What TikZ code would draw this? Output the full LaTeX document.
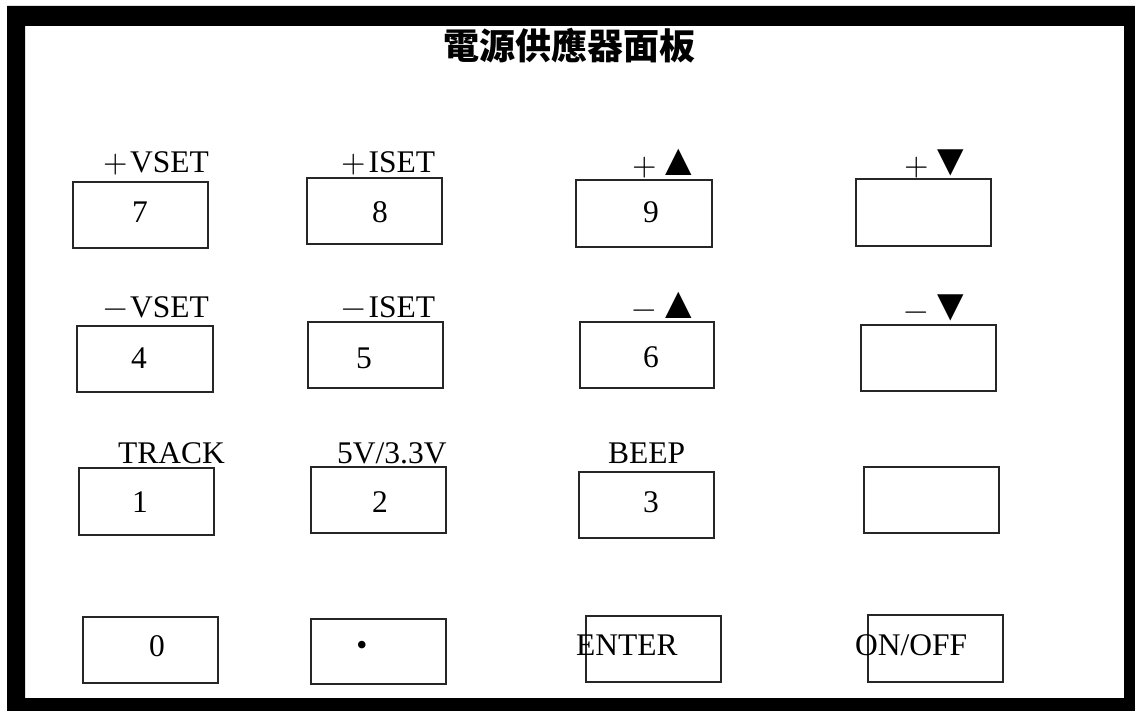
\documentclass[tikz,border=0pt]{standalone}
\usepackage{fontspec}
\setmainfont{Liberation Serif}
\newfontfamily\cjkfont{Noto Sans CJK TC}
\newfontfamily\lmr{lmroman10-regular}[Extension=.otf]
\newcommand\pls{{\lmr +}}
\newcommand\mns{{\lmr −}}
\newcommand\tri[1]{{\fontsize{45}{48}\selectfont #1}}
\tikzset{
  keyframe/.style={draw=black!85, line width=1.6pt, rectangle, inner sep=0pt},
  lbl/.style={anchor=base west, inner sep=0pt, font=\fontsize{31.5}{36}\selectfont},
  dig/.style={anchor=base, inner sep=0pt, font=\fontsize{31.5}{36}\selectfont},
  ttl/.style={anchor=base, inner sep=0pt, font=\cjkfont\bfseries\fontsize{36}{40}\selectfont}
}
\newcommand\keybox[5]{\node[keyframe, minimum width={(#4)-(#2)}, minimum height={(#5)-(#3)}] (#1) at ({((#2)+(#4))/2},{((#3)+(#5))/2}) {};}
\begin{document}
\begin{tikzpicture}[x=1pt,y=-1pt]
\useasboundingbox (0,0) rectangle (1135,711);
% frame
\fill[black, even odd rule] (7,6) rectangle (1135,711) (25,26) rectangle (1124,698);
% title
\node[ttl] (title) at (569.5,60) {電源供應器面板};
% keys
\keybox{k7}{73}{182}{208}{248}
\keybox{k8}{307}{178}{442}{244}
\keybox{k9}{576}{180}{712}{247}
\keybox{kpd}{856}{179}{991}{246}
\keybox{k4}{77}{326}{213}{392}
\keybox{k5}{308}{322}{443}{388}
\keybox{k6}{580}{322}{714}{388}
\keybox{kmd}{861}{325}{996}{391}
\keybox{k1}{79}{468}{214}{535}
\keybox{k2}{311}{467}{446}{533}
\keybox{k3}{579}{472}{714}{538}
\keybox{kbl}{864}{467}{999}{533}
\keybox{k0}{83}{617}{218}{683}
\keybox{kdot}{311}{619}{446}{684}
\keybox{kent}{586}{616}{721}{682}
\keybox{konoff}{868}{615}{1003}{682}
% labels above keys
\node[lbl] (l7) at (103,173) {\pls\kern2.5pt VSET};
\node[lbl] (l8) at (341,173) {\pls\kern3pt ISET};
\node[lbl] (l9) at (632,176) {\pls\tri{▲}};
\node[lbl] (lpd) at (904,176) {\pls\tri{▼}};
\node[lbl] (l4) at (103,317) {\mns\kern2.5pt VSET};
\node[lbl] (l5) at (341,317) {\mns\kern3pt ISET};
\node[lbl] (l6) at (631.5,319) {\mns\tri{▲}};
\node[lbl] (lmd) at (903.5,320) {\mns\tri{▼}};
\node[lbl] (l1) at (118,463) {TRACK};
\node[lbl] (l2) at (337,463) {5V/3.3V};
\node[lbl] (l3) at (608,463) {BEEP};
% digits
\node[dig] (d7) at (140,223) {7};
\node[dig] (d8) at (380,223) {8};
\node[dig] (d9) at (651,223) {9};
\node[dig] (d4) at (139,368) {4};
\node[dig] (d5) at (364,368) {5};
\node[dig] (d6) at (651,367) {6};
\node[dig] (d1) at (140,512) {1};
\node[dig] (d2) at (380,512) {2};
\node[dig] (d3) at (651,512) {3};
\node[dig] (d0) at (157,656) {0};
\node[dig] (ddot) at (362,655) {•};
\node[lbl] (tent) at (576,655) {ENTER};
\node[lbl] (tonoff) at (855,655) {ON/OFF};
\end{tikzpicture}
\end{document}
